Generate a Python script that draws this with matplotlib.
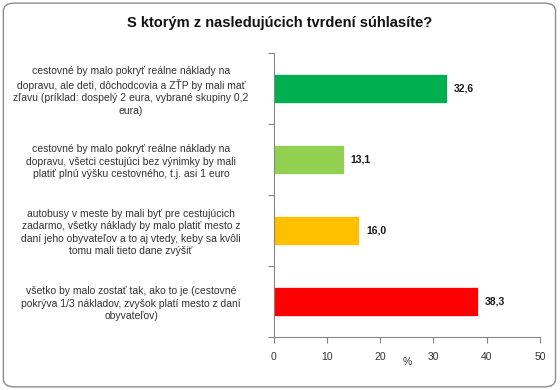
import numpy as np
import matplotlib.pyplot as plt
from matplotlib.patches import FancyBboxPatch

plt.rcParams['font.family'] = ['Liberation Sans', 'DejaVu Sans']

statements = [
    'cestovné by malo pokryť reálne náklady na\ndopravu, ale deti, dôchodcovia a ZŤP by mali mať\nzľavu (príklad: dospelý 2 eura, vybrané skupiny 0,2\neura)',
    'cestovné by malo pokryť reálne náklady na\ndopravu, všetci cestujúci bez výnimky by mali\nplatiť plnú výšku cestovného, t.j. asi 1 euro',
    'autobusy v meste by mali byť pre cestujúcich\nzadarmo, všetky náklady by malo platiť mesto z\ndaní jeho obyvateľov a to aj vtedy, keby sa kvôli\ntomu mali tieto dane zvýšiť',
    'všetko by malo zostať tak, ako to je (cestovné\npokrýva 1/3 nákladov, zvyšok platí mesto z daní\nobyvateľov)',
]
percent = [32.6, 13.1, 16.0, 38.3]
colors = ['#00B050', '#92D050', '#FFC000', '#FF0000']
xticks = [0, 10, 20, 30, 40, 50]

fig = plt.figure(figsize=(5.6, 3.9), dpi=100)
frame = FancyBboxPatch((0.006, 0.008), 0.986, 0.984, boxstyle='round,pad=0,rounding_size=0.02',
                       transform=fig.transFigure, facecolor='none', edgecolor='#8c8c8c',
                       linewidth=1.0)
fig.patches.append(frame)

ax = fig.add_axes([0.489, 0.136, 0.475, 0.728])
ax.patch.set_alpha(0)
ypos = np.arange(len(percent))
ax.barh(ypos, percent, height=0.4, color=colors, edgecolor='white', linewidth=0.5)
for y, v in zip(ypos, percent):
    ax.text(v + 1.3, y, f'{v:.1f}'.replace('.', ','), va='center', ha='left',
            fontsize=7.5, fontweight='bold', color='#1a1a1a')

ax.set_xlim(0, 50)
ax.set_ylim(len(percent) - 0.5, -0.5)
ax.set_xticks(xticks)
ax.set_yticks(np.arange(-0.5, len(percent)), labels=[])
ax.set_yticks(ypos, labels=statements, minor=True)
ax.tick_params(axis='y', which='minor', length=0, pad=6)
ax.tick_params(axis='y', which='major', length=4, color='#868686')
ax.tick_params(axis='x', length=4, color='#868686', labelsize=7.5, labelcolor='#333333', pad=7)
for lab in ax.get_yticklabels(minor=True):
    lab.set_multialignment('center')
    lab.set_horizontalalignment('center')
    lab.set_fontsize(7.5)
    lab.set_linespacing(1.3)
    lab.set_color('#333333')
    lab.set_x(-0.505)
ax.spines[['top', 'right']].set_visible(False)
ax.spines[['left', 'bottom']].set_color('#868686')
ax.set_xlabel('%', fontsize=7.5, color='#333333', labelpad=-4)

fig.text(0.5, 0.942, 'S ktorým z nasledujúcich tvrdení súhlasíte?', ha='center', va='center',
         fontsize=10.5, fontweight='bold', color='#111111')

fig.savefig('out.png', dpi=100)
